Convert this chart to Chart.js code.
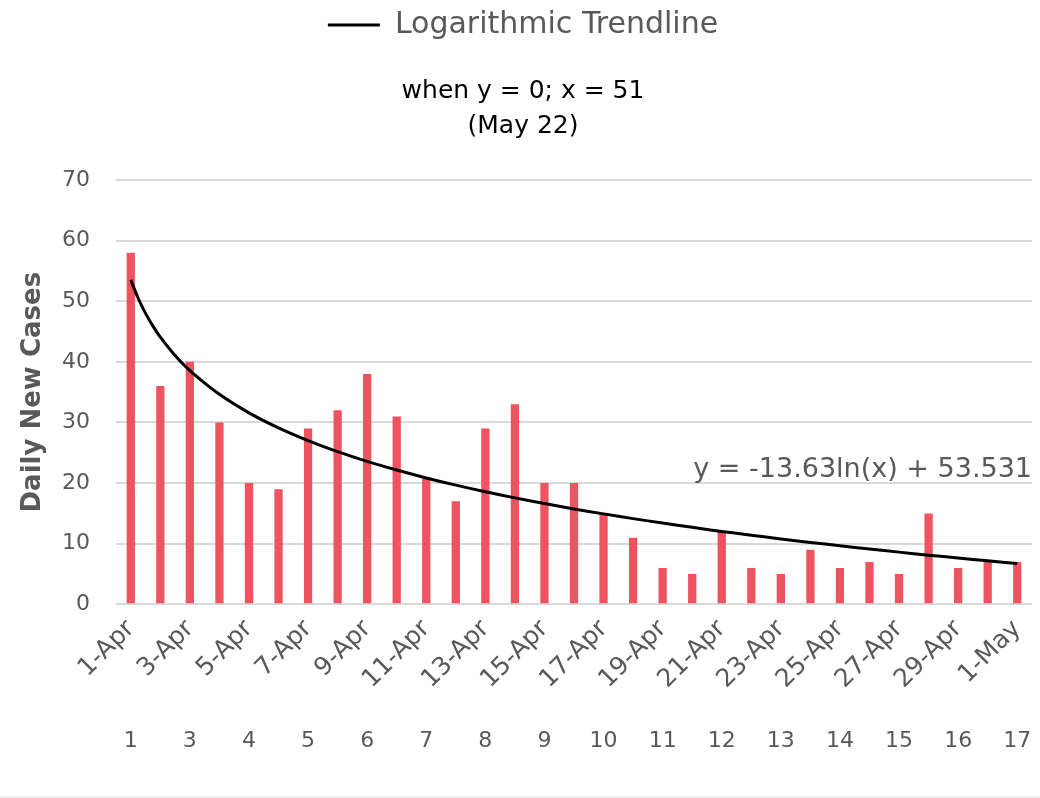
<!DOCTYPE html>
<html>
<head>
<meta charset="utf-8">
<script src="https://cdn.jsdelivr.net/npm/chart.js@4"></script>
<style>
	body { margin: 0; background: #fff; }
	#wrap { width: 1040px; height: 796px; border-bottom: 2px solid #ececec; }
</style>
</head>
<body>
<div id="wrap"><canvas id="cases-chart"></canvas></div>
<script>
// Data
const days = [
	'1-Apr', '2-Apr', '3-Apr', '4-Apr', '5-Apr', '6-Apr', '7-Apr', '8-Apr', '9-Apr', '10-Apr',
	'11-Apr', '12-Apr', '13-Apr', '14-Apr', '15-Apr', '16-Apr', '17-Apr', '18-Apr', '19-Apr', '20-Apr',
	'21-Apr', '22-Apr', '23-Apr', '24-Apr', '25-Apr', '26-Apr', '27-Apr', '28-Apr', '29-Apr', '30-Apr',
	'1-May',
];
const dailyCases = [
	58, 36, 40, 30, 20, 19, 29, 32, 38, 31,
	21, 17, 29, 33, 20, 20, 15, 11, 6, 5,
	12, 6, 5, 9, 6, 7, 5, 15, 6, 7,
	7,
];
// trendline (day number, value); denser where it bends
const trendDays = [
	1, 1.25, 1.5, 1.75, 2, 2.5, 3, 4, 5, 6, 7, 8, 9, 10,
	11, 12, 13, 14, 15, 16, 17, 18, 19, 20,
	21, 22, 23, 24, 25, 26, 27, 28, 29, 30,
	31,
];
const trendValues = [
	53.53, 50.49, 48.00, 45.90, 44.08, 41.04, 38.56, 34.64, 31.59, 29.11, 27.01, 25.19, 23.58, 22.15,
	20.85, 19.66, 18.57, 17.56, 16.62, 15.74, 14.92, 14.14, 13.40, 12.70,
	12.03, 11.40, 10.79, 10.21, 9.66, 9.12, 8.61, 8.11, 7.64, 7.17,
	6.73,
];
// second row of labels under every other day
const serialTicks = [ '1', '3', '4', '5', '6', '7', '8', '9', '10', '11', '12', '13', '14', '15', '16', '17' ];
const equationText = 'y = -13.63ln(x) + 53.531';
const noteText = [ 'when y = 0; x = 51', '(May 22)' ];

const FONT = "'DejaVu Sans', sans-serif";
const GREY = '#595959';

const serialLabels = days.map( ( d, i ) => ( i % 2 === 0 ? serialTicks[ i / 2 ] : '' ) );
const trendPoints = trendDays.map( ( d, i ) => ( { x: d, y: trendValues[ i ] } ) );

// Equation text next to the trendline
const equationLabel = {
	id: 'equationLabel',
	afterDatasetsDraw( chart ) {
		const { ctx, chartArea, scales } = chart;
		ctx.save();
		ctx.font = '27px ' + FONT;
		ctx.fillStyle = GREY;
		ctx.textAlign = 'right';
		ctx.textBaseline = 'middle';
		ctx.fillText( equationText, chartArea.right, scales.y.getPixelForValue( 22.2 ) );
		ctx.restore();
	},
};

// rotated labels: don't let them widen the side margins
const noSidePad = ( scale ) => {
	scale.paddingLeft = 0;
	scale.paddingRight = 0;
};

new Chart( document.getElementById( 'cases-chart' ), {
	data: {
		labels: days,
		datasets: [
			{
				type: 'line',
				label: 'Logarithmic Trendline',
				data: trendPoints,
				xAxisID: 'xt',
				borderColor: '#000',
				backgroundColor: '#000',
				borderWidth: 3,
				pointRadius: 0,
				tension: 0.4,
			},
			{
				type: 'bar',
				label: 'Daily New Cases',
				data: dailyCases,
				xAxisID: 'x',
				grouped: false,
				backgroundColor: '#EF5360',
				categoryPercentage: 1,
				barPercentage: 0.28,
			},
		],
	},
	plugins: [ equationLabel ],
	options: {
		responsive: true,
		maintainAspectRatio: false,
		animation: false,
		layout: {
			padding: { left: 14, right: 8, top: 4, bottom: 19 },
		},
		plugins: {
			legend: {
				position: 'top',
				weight: 3000,
				labels: {
					filter: ( item ) => item.datasetIndex === 0,
					usePointStyle: true,
					pointStyle: 'line',
					pointStyleWidth: 52,
					color: GREY,
					font: { family: FONT, size: 30 },
					padding: 6,
				},
			},
			title: {
				display: true,
				text: noteText,
				color: '#000',
				font: { family: FONT, size: 25, weight: 'normal', lineHeight: 1.4 },
				padding: { top: 24, bottom: 36 },
			},
			tooltip: { enabled: false },
		},
		scales: {
			x: {
				weight: 0,
				grid: { display: false },
				border: { display: false },
				afterFit: noSidePad,
				ticks: {
					autoSkip: false,
					maxRotation: 45,
					minRotation: 45,
					color: GREY,
					font: { family: FONT, size: 25 },
					padding: 2,
					callback: ( v, i ) => ( i % 2 === 0 ? days[ i ] : '' ),
				},
			},
			x2: {
				type: 'category',
				position: 'bottom',
				weight: 1,
				offset: true,
				labels: serialLabels,
				grid: { display: false },
				border: { display: false },
				afterFit: noSidePad,
				ticks: {
					autoSkip: false,
					maxRotation: 0,
					color: GREY,
					font: { family: FONT, size: 22 },
					padding: 23,
				},
			},
			xt: {
				type: 'linear',
				display: false,
				min: 0.5,
				max: 31.5,
			},
			y: {
				min: 0,
				max: 70,
				afterFit: ( scale ) => {
					scale.width = 102;
				},
				ticks: {
					stepSize: 10,
					color: GREY,
					font: { family: FONT, size: 22 },
					padding: 26,
				},
				grid: { color: '#d9d9d9', lineWidth: 2, drawTicks: false },
				border: { display: false },
				title: {
					display: true,
					text: 'Daily New Cases',
					color: GREY,
					font: { family: FONT, size: 26, weight: 'bold' },
					padding: { top: 4, bottom: 13 },
				},
			},
		},
	},
} );
</script>
</body>
</html>
